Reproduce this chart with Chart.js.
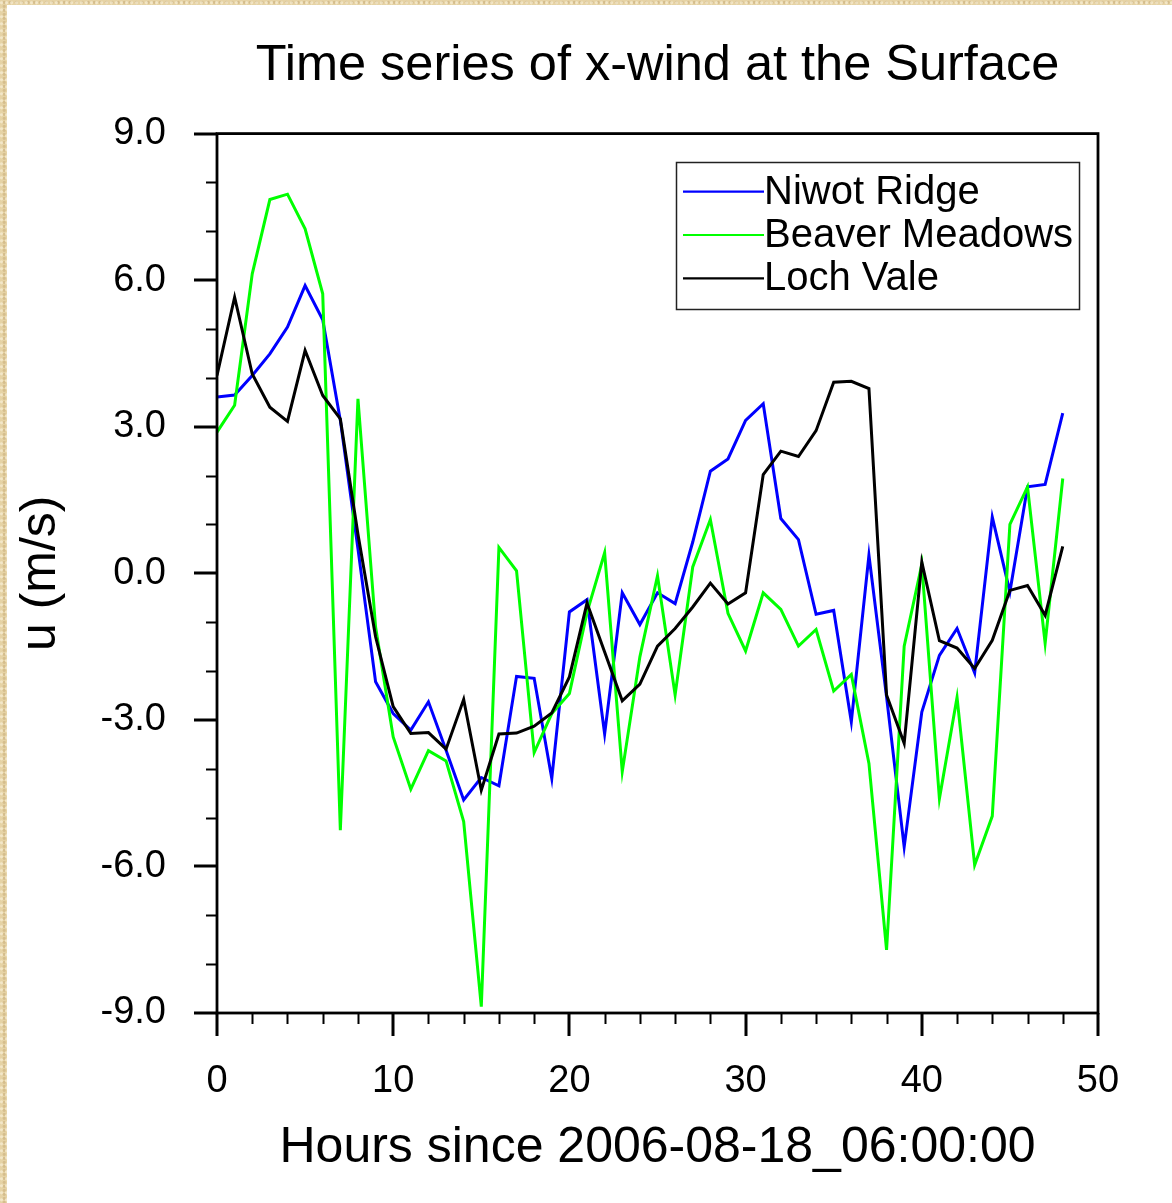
<!DOCTYPE html>
<html>
<head>
<meta charset="utf-8">
<title>Time series of x-wind at the Surface</title>
<script src="https://cdn.jsdelivr.net/npm/chart.js@4.4.1/dist/chart.umd.min.js"></script>
<style>
  html, body { margin: 0; padding: 0; overflow: hidden; }
  body {
    width: 1172px; height: 1203px; position: relative;
    background-color: #e6d3a5;
    background-image:
      radial-gradient(circle at 30% 40%, rgba(255,250,235,0.5) 0 1px, transparent 2px),
      radial-gradient(circle at 70% 60%, rgba(180,150,95,0.35) 0 1px, transparent 2px);
    background-size: 5px 7px, 6px 4px;
  }
  #panel { position: absolute; left: 7px; top: 5px; width: 1165px; height: 1198px; background: #fff; }
  #wrap { position: absolute; left: 0; top: 0; width: 1172px; height: 1203px; }
</style>
</head>
<body>
<div id="panel"></div>
<div id="wrap"><canvas id="windChart"></canvas></div>
<script>
// hours since 2006-08-18_06:00:00
const hours = [0, 1, 2, 3, 4, 5, 6, 7, 8, 9, 10, 11, 12, 13, 14, 15, 16, 17, 18, 19, 20, 21, 22, 23, 24,
  25, 26, 27, 28, 29, 30, 31, 32, 33, 34, 35, 36, 37, 38, 39, 40, 41, 42, 43, 44, 45, 46, 47, 48];

// u (m/s)
const niwotRidge = [3.61, 3.65, 4.05, 4.49, 5.04, 5.89, 5.19, 3.13, 0.5, -2.22, -2.87, -3.21, -2.63,
  -3.62, -4.64, -4.18, -4.35, -2.11, -2.15, -4.20, -0.79, -0.54, -3.29, -0.40, -1.05, -0.40, -0.62,
  0.64, 2.09, 2.34, 3.13, 3.47, 1.12, 0.69, -0.84, -0.76, -3.04, 0.37, -2.53, -5.60, -2.84, -1.68,
  -1.13, -2.04, 1.15, -0.38, 1.77, 1.82, 3.28];

const beaverMeadows = [2.89, 3.44, 6.13, 7.65, 7.76, 7.05, 5.72, -5.26, 3.57, -1.1, -3.35, -4.42, -3.63,
  -3.84, -5.08, -8.87, 0.53, 0.05, -3.67, -2.87, -2.46, -0.8, 0.42, -4.06, -1.71, -0.05, -2.49,
  0.13, 1.10, -0.82, -1.59, -0.40, -0.74, -1.49, -1.15, -2.41, -2.07, -3.89, -7.71, -1.49, 0.18, -4.61,
  -2.54, -5.97, -4.97, 1.00, 1.77, -1.43, 1.94];

const lochVale = [4.05, 5.65, 4.08, 3.40, 3.11, 4.56, 3.64, 3.16, 0.8, -1.30, -2.73, -3.28, -3.26,
  -3.60, -2.58, -4.44, -3.29, -3.27, -3.13, -2.86, -2.12, -0.61, -1.61, -2.61, -2.27, -1.49, -1.13,
  -0.69, -0.20, -0.63, -0.40, 2.02, 2.50, 2.39, 2.92, 3.91, 3.93, 3.78, -2.49, -3.48, 0.23, -1.38,
  -1.53, -1.95, -1.37, -0.35, -0.25, -0.86, 0.55];

const seriesNames = ["Niwot Ridge", "Beaver Meadows", "Loch Vale"];
const seriesColors = ["#0000ff", "#00ff00", "#000000"];

const xTicks = [0, 10, 20, 30, 40, 50];
const yTicks = [-9, -6, -3, 0, 3, 6, 9];
const xMinorStep = 2;
const yMinorStep = 1;

const FONT = "'Liberation Sans', Arial, Helvetica, sans-serif";

function toPoints(values) {
    return hours.map((h, i) => ({ x: h, y: values[i] }));
}

// frame round the plot plus outward major / minor tick marks
const frameTicks = {
    id: 'frameTicks',
    afterDatasetsDraw(chart) {
        const { ctx, chartArea: a, scales: { x, y } } = chart;
        ctx.save();
        ctx.strokeStyle = '#000';
        ctx.lineCap = 'butt';

        ctx.lineWidth = 2;
        ctx.beginPath();
        for (let v = xTicks[0]; v <= xTicks[xTicks.length - 1]; v += xMinorStep) {
            if (xTicks.includes(v)) continue;
            const px = Math.round(x.getPixelForValue(v)) + 0.5;
            ctx.moveTo(px, a.bottom);
            ctx.lineTo(px, a.bottom + 11);
        }
        for (let v = yTicks[0]; v <= yTicks[yTicks.length - 1]; v += yMinorStep) {
            if (yTicks.includes(v)) continue;
            const py = Math.round(y.getPixelForValue(v)) + 0.5;
            ctx.moveTo(a.left, py);
            ctx.lineTo(a.left - 11, py);
        }
        ctx.stroke();

        ctx.lineWidth = 3;
        ctx.beginPath();
        xTicks.forEach(v => {
            const px = Math.round(x.getPixelForValue(v));
            ctx.moveTo(px, a.bottom);
            ctx.lineTo(px, a.bottom + 23);
        });
        yTicks.forEach(v => {
            const py = Math.round(y.getPixelForValue(v));
            ctx.moveTo(a.left, py);
            ctx.lineTo(a.left - 23, py);
        });
        ctx.stroke();

        ctx.lineWidth = 2.8;
        ctx.strokeRect(a.left, a.top, a.right - a.left, a.bottom - a.top);
        ctx.restore();
    }
};

// NCL style legend box in the upper right of the plot
const boxLegend = {
    id: 'boxLegend',
    afterDraw(chart) {
        const { ctx } = chart;
        const left = 676.5, top = 162.5, w = 403, h = 147;
        const rows = [191.7, 235, 278.3];
        ctx.save();
        ctx.fillStyle = '#fff';
        ctx.fillRect(left, top, w, h);
        ctx.strokeStyle = '#222';
        ctx.lineWidth = 1.5;
        ctx.strokeRect(left, top, w, h);
        ctx.font = '40px ' + FONT;
        ctx.textBaseline = 'middle';
        ctx.textAlign = 'left';
        chart.data.datasets.forEach((ds, i) => {
            ctx.strokeStyle = ds.borderColor;
            ctx.lineWidth = 2.2;
            ctx.beginPath();
            ctx.moveTo(683, rows[i]);
            ctx.lineTo(764, rows[i]);
            ctx.stroke();
            ctx.fillStyle = '#000';
            ctx.fillText(ds.label, 764, rows[i] + 1);
        });
        ctx.restore();
    }
};

const ctx = document.getElementById('windChart').getContext('2d');

new Chart(ctx, {
    type: 'line',
    data: {
        datasets: [
            { label: seriesNames[0], data: toPoints(niwotRidge), borderColor: seriesColors[0], order: 3 },
            { label: seriesNames[1], data: toPoints(beaverMeadows), borderColor: seriesColors[1], order: 2 },
            { label: seriesNames[2], data: toPoints(lochVale), borderColor: seriesColors[2], order: 1 }
        ]
    },
    options: {
        responsive: true,
        maintainAspectRatio: false,
        animation: false,
        events: [],
        elements: {
            line: { borderWidth: 3, tension: 0, fill: false, borderJoinStyle: 'miter' },
            point: { radius: 0 }
        },
        layout: { padding: { left: 0, top: 0, right: 74, bottom: 0 } },
        plugins: {
            legend: { display: false },
            tooltip: { enabled: false },
            title: {
                display: true,
                text: 'Time series of x-wind at the Surface',
                fullSize: false,
                color: '#000',
                font: { family: FONT, size: 50.5, weight: 'normal' },
                padding: { top: 36, bottom: 37 }
            }
        },
        scales: {
            x: {
                type: 'linear',
                min: 0,
                max: 50,
                afterFit: s => { s.height = 190; },
                grid: { display: false, drawTicks: false },
                border: { display: false },
                ticks: {
                    stepSize: 10,
                    autoSkip: false,
                    maxRotation: 0,
                    padding: 46,
                    color: '#000',
                    font: { family: FONT, size: 38 },
                    callback: v => String(v)
                },
                title: {
                    display: true,
                    text: 'Hours since 2006-08-18_06:00:00',
                    color: '#000',
                    font: { family: FONT, size: 50 },
                    padding: { top: 0, bottom: 25 }
                }
            },
            y: {
                type: 'linear',
                min: -9,
                max: 9,
                afterFit: s => { s.width = 217; },
                grid: { display: false, drawTicks: false },
                border: { display: false },
                ticks: {
                    stepSize: 3,
                    autoSkip: false,
                    padding: 51,
                    color: '#000',
                    font: { family: FONT, size: 38 },
                    callback: v => v.toFixed(1)
                },
                title: {
                    display: true,
                    text: 'u (m/s)',
                    color: '#000',
                    font: { family: FONT, size: 50 },
                    padding: { top: 11, bottom: 0 }
                }
            }
        }
    },
    plugins: [frameTicks, boxLegend]
});
</script>
</body>
</html>
